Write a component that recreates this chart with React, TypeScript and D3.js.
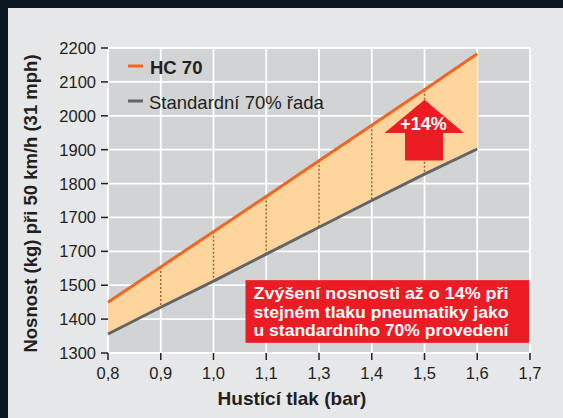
import React from 'react';
import * as d3 from 'd3';

// x categories as printed on the chart (1,2 is missing in the original)
const xLabels = ['0,8', '0,9', '1,0', '1,1', '1,3', '1,4', '1,5', '1,6', '1,7'];
const yTicks = [1300, 1400, 1500, 1600, 1700, 1800, 1900, 2000, 2100, 2200];
const yTickLabels = ['1300', '1400', '1500', '1700', '1700', '1800', '1900', '2000', '2100', '2200'];

const lineLabels = ['0,8', '0,9', '1,0', '1,1', '1,3', '1,4', '1,5', '1,6'];
const hc70 = [1450, 1554, 1658, 1762, 1867, 1972, 2077, 2183];
const standard = [1356, 1435, 1512, 1592, 1671, 1750, 1828, 1902];
const dottedAt = ['0,9', '1,0', '1,1', '1,3', '1,4', '1,5'];

const seriesNames = ['HC 70', 'Standardní 70% řada'];
const arrowLabel = '+14%';
const noteLines = [
  'Zvýšení nosnosti až o 14% při',
  'stejném tlaku pneumatiky jako',
  'u standardního 70% provedení',
];

const W = 563;
const H = 418;
const margin = { left: 108, right: 33, top: 48, bottom: 65 };

const font = '"Liberation Sans", Arial, Helvetica, sans-serif';
const ink = '#231f20';
const orange = '#f26522';
const grey = '#636466';
const red = '#ed1c24';

const App = () => {
  const x = d3.scalePoint<string>()
    .domain(xLabels)
    .range([margin.left, W - margin.right]);

  const y = d3.scaleLinear()
    .domain([1300, 2200])
    .range([H - margin.bottom, margin.top]);

  const pts = lineLabels.map((l, i) => ({ l, hc: hc70[i], st: standard[i] }));

  const area = d3.area<any>()
    .x(d => x(d.l)!)
    .y0(d => y(d.st))
    .y1(d => y(d.hc));
  const hcLine = d3.line<any>().x(d => x(d.l)!).y(d => y(d.hc));
  const stLine = d3.line<any>().x(d => x(d.l)!).y(d => y(d.st));

  const x0 = margin.left;
  const x1 = W - margin.right;
  const y0 = y(1300);
  const y1 = y(2200);

  // arrow at 1,5
  const ax = x('1,5')!;
  const tipY = y(2047);
  const headY = y(1949);
  const botY = y(1868);
  const arrowPath = `M${ax},${tipY} L${ax + 39.5},${headY} L${ax + 18.5},${headY} L${ax + 18.5},${botY} L${ax - 19.5},${botY} L${ax - 19.5},${headY} L${ax - 40},${headY} Z`;

  // note box
  const bx = x('1,0')! + 32;
  const by = y(1515);
  const bh = y(1330) - by;

  return (
    <svg width={W} height={H} style={{ position: 'absolute', left: 0, top: 0 }} fontFamily={font}>
      <rect width={W} height={H} fill="#0c1722" />
      <rect x={8} y={8} width={W - 8} height={H - 8} fill="#e6e7e8" />

      <rect x={x0} y={y1} width={x1 - x0} height={y0 - y1} fill="#d1d3d4" />
      {xLabels.map(l => (
        <line key={'gx' + l} x1={x(l)} x2={x(l)} y1={y1} y2={y0} stroke="#fff" strokeWidth={1.8} />
      ))}
      {yTicks.map(t => (
        <line key={'gy' + t} x1={x0} x2={x1} y1={y(t)} y2={y(t)} stroke="#fff" strokeWidth={1.8} />
      ))}

      <path d={area(pts)!} fill="#fed59d" />
      {dottedAt.map(l => {
        const i = lineLabels.indexOf(l);
        return (
          <line key={'d' + l} x1={x(l)} x2={x(l)} y1={y(hc70[i])} y2={y(standard[i])}
            stroke="#9a6a30" strokeWidth={1.5} strokeDasharray="2,2" />
        );
      })}
      <path d={stLine(pts)!} fill="none" stroke={grey} strokeWidth={3} />
      <path d={hcLine(pts)!} fill="none" stroke={orange} strokeWidth={3} />

      {/* axes ticks */}
      {yTicks.map((t, i) => (
        <g key={'yt' + t}>
          <line x1={x0 - 7} x2={x0} y1={y(t)} y2={y(t)} stroke={ink} strokeWidth={1.5} />
          <text x={96} y={y(t) + 6} textAnchor="end" fontSize={16.5} fill={ink}>{yTickLabels[i]}</text>
        </g>
      ))}
      {xLabels.map(l => (
        <g key={'xt' + l}>
          <line x1={x(l)} x2={x(l)} y1={y0} y2={y0 + 7} stroke={ink} strokeWidth={1.5} />
          <text x={x(l)} y={379} textAnchor="middle" fontSize={16.5} fill={ink}>{l}</text>
        </g>
      ))}

      <text x={(x0 + x1) / 2 - 27} y={405} textAnchor="middle" fontSize={19} fontWeight="bold" fill={ink}>
        Hustící tlak (bar)
      </text>
      <text transform={`translate(37,${(y0 + y1) / 2 + 3}) rotate(-90)`} textAnchor="middle"
        fontSize={18.5} fontWeight="bold" fill={ink}>
        Nosnost (kg) při 50 km/h (31 mph)
      </text>

      {/* legend */}
      <line x1={128} x2={143} y1={66} y2={66} stroke={orange} strokeWidth={3} />
      <text x={150} y={74} fontSize={18.5} fontWeight="bold" fill={ink}>{seriesNames[0]}</text>
      <line x1={128} x2={143} y1={101} y2={101} stroke={grey} strokeWidth={3} />
      <text x={149} y={108.5} fontSize={18.5} fill={ink}>{seriesNames[1]}</text>

      {/* arrow */}
      <path d={arrowPath} fill={red} />
      <text x={ax - 1} y={129.5} textAnchor="middle" fontSize={18} fontWeight="bold" fill="#fff">{arrowLabel}</text>

      {/* note */}
      <rect x={bx} y={by} width={x1 - 1 - bx} height={bh} fill={red} />
      {noteLines.map((s, i) => (
        <text key={s} x={bx + 8} y={by + 19 + i * 18.5} fontSize={16.5} fontWeight="bold" fill="#fff"
          textLength={255} lengthAdjust="spacingAndGlyphs">{s}</text>
      ))}
    </svg>
  );
};

export default App;
